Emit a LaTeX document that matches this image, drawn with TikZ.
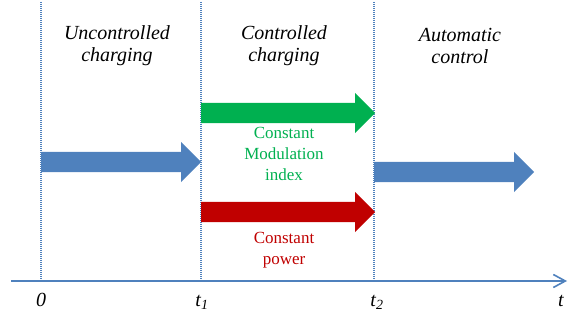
\documentclass[tikz,border=0pt]{standalone}
\usepackage{fontspec}
\setmainfont{Liberation Serif}
\definecolor{PhaseBlue}{RGB}{79,129,189}
\definecolor{PhaseGreen}{RGB}{0,176,80}
\definecolor{PhaseRed}{RGB}{192,0,0}
\usetikzlibrary{shapes.arrows,arrows.meta,positioning,calc}

\begin{document}
\begin{tikzpicture}[
        x=1pt, y=-1pt,
        phase/.style={align=center, font=\fontsize{20}{22}\selectfont\itshape},
        mode/.style={single arrow, single arrow head extend=10pt, minimum width=40pt,
                     text width=0pt, text height=10pt, text depth=10pt,
                     inner sep=0pt, anchor=tail, draw=none},
        note/.style={align=center, font=\fontsize{17}{21}\selectfont},
        tick/.style={font=\fontsize{20}{22}\selectfont\itshape},
        border/.style={draw=PhaseBlue, dash pattern=on 1pt off 1pt, line width=1.2pt},
        axis/.style={draw=PhaseBlue, line width=1.6pt, -{Straight Barb[length=12pt,width=13pt]}}
    ]
        \useasboundingbox (0,0) rectangle (576,320);
        % time axis
        \coordinate (start) at (11,281);
        \coordinate (end)   at (567,281);
        \coordinate (z0) at (41,281);
        \coordinate (z1) at (201,281);
        \coordinate (z2) at (374,281);
        \coordinate (top0) at (41,2);
        \coordinate (top1) at (201,2);
        \coordinate (top2) at (374,2);
        \path[border] (top0) -- (z0);
        \path[border] (top1) -- (z1);
        \path[border] (top2) -- (z2);
        \path[axis] (start) -- (end);
        \node[tick] (l0) at (41,300) {0};
        \node[tick] (l1) at (202,302) {t\textsubscript{1}};
        \node[tick] (l2) at (377,302) {t\textsubscript{2}};
        \node[tick] (lt) at (561,301) {t};
        % phases
        \node[phase] (unc)  at (117,46) {Uncontrolled\\charging};
        \node[phase] (ctrl) at (284,46) {Controlled\\charging};
        \node[phase] (auto) at (460,46) {Automatic\\control};
        % block arrows
        \node[mode, fill=PhaseBlue,  minimum height=160pt] (pre)   at (41,162)  {};
        \node[mode, fill=PhaseGreen, minimum height=174pt] (cmi)   at (201,113) {};
        \node[mode, fill=PhaseRed,   minimum height=174pt] (cpow)  at (201,212) {};
        \node[mode, fill=PhaseBlue,  minimum height=160pt] (post)  at (374,172) {};
        \node[note, text=PhaseGreen] (cmitxt)  at (284,154) {Constant\\Modulation\\index};
        \node[note, text=PhaseRed]   (cpowtxt) at (284,250) {Constant\\power};
    \end{tikzpicture}
\end{document}
